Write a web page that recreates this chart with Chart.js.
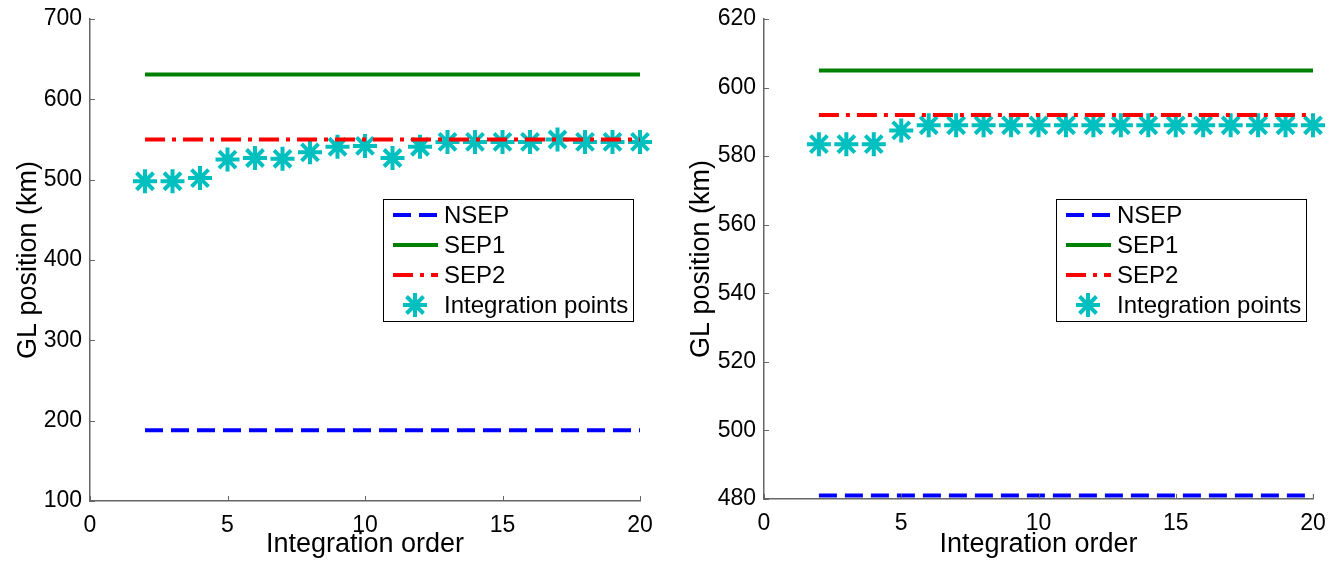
<!DOCTYPE html>
<html>
<head>
<meta charset="utf-8">
<script src="https://cdn.jsdelivr.net/npm/chart.js@4.4.0/dist/chart.umd.min.js"></script>
<style>
  html, body { margin: 0; padding: 0; background: #fff; }
  #wrap { display: flex; width: 1338px; height: 561px; }
  #wrap div { position: relative; width: 669px; height: 561px; }
</style>
</head>
<body>
<div id="wrap">
  <div><canvas id="left" width="669" height="561"></canvas></div>
  <div><canvas id="right" width="669" height="561"></canvas></div>
</div>
<script>
// Integration order on the x axis
const orders = [2, 3, 4, 5, 6, 7, 8, 9, 10, 11, 12, 13, 14, 15, 16, 17, 18, 19, 20];

// Left panel (km)
const leftNSEP = 188;
const leftSEP1 = 631;
const leftSEP2 = 550;
const leftPoints = [498, 498, 502, 525, 527, 526, 534, 541, 542, 527, 541, 547, 547, 547, 547, 550, 547, 547, 547];
const leftYTicks = [100, 200, 300, 400, 500, 600, 700];

// Right panel (km)
const rightNSEP = 481;
const rightSEP1 = 605;
const rightSEP2 = 592;
const rightPoints = [583.5, 583.5, 583.5, 587.5, 589, 589, 589, 589, 589, 589, 589, 589, 589, 589, 589, 589, 589, 589, 589];
const rightYTicks = [480, 500, 520, 540, 560, 580, 600, 620];

const xTicks = [0, 5, 10, 15, 20];
const seriesNames = ['NSEP', 'SEP1', 'SEP2', 'Integration points'];

const FONT = 'Liberation Sans, Arial, Helvetica, sans-serif';
const AXIS_COLOR = '#666';
const CYAN = '#00bfbf';

// MATLAB style inward tick marks
const inwardTicks = {
    id: 'inwardTicks',
    afterDraw: function (chart) {
        const ctx = chart.ctx;
        const a = chart.chartArea;
        const xs = chart.scales.x;
        const ys = chart.scales.y;
        ctx.save();
        ctx.strokeStyle = AXIS_COLOR;
        ctx.lineWidth = 1;
        ctx.beginPath();
        xs.ticks.forEach(function (t) {
            const px = Math.round(xs.getPixelForValue(t.value)) + 0.5;
            ctx.moveTo(px, a.bottom);
            ctx.lineTo(px, a.bottom - 5);
        });
        ys.ticks.forEach(function (t) {
            const py = Math.round(ys.getPixelForValue(t.value)) + 0.5;
            ctx.moveTo(a.left, py);
            ctx.lineTo(a.left + 5, py);
        });
        ctx.stroke();
        ctx.restore();
    }
};

// Legend box drawn inside the plot area, like the MATLAB legend
const boxLegend = {
    id: 'boxLegend',
    afterDraw: function (chart) {
        const ctx = chart.ctx;
        const a = chart.chartArea;
        const w = 250, h = 122;
        const left = a.right - 7 - w;
        const top = 199 - 19 + a.top;
        ctx.save();
        ctx.fillStyle = '#fff';
        ctx.fillRect(left, top, w, h);
        ctx.strokeStyle = '#000';
        ctx.lineWidth = 1;
        ctx.strokeRect(left + 0.5, top + 0.5, w, h);

        ctx.font = '24px ' + FONT;
        ctx.textBaseline = 'middle';
        ctx.textAlign = 'left';
        chart.data.datasets.forEach(function (ds, i) {
            const cy = top + 16 + i * 30;
            ctx.save();
            if (ds.showLine === false) {
                drawStar(ctx, left + 32, cy, ds.pointRadius, ds.pointBorderWidth, ds.pointBorderColor);
            } else {
                ctx.strokeStyle = ds.borderColor;
                ctx.lineWidth = ds.borderWidth;
                ctx.setLineDash(ds.borderDash || []);
                ctx.beginPath();
                ctx.moveTo(left + 10, cy);
                ctx.lineTo(left + 55, cy);
                ctx.stroke();
            }
            ctx.restore();
            ctx.fillStyle = '#000';
            ctx.fillText(ds.label, left + 61, cy + 1);
        });
        ctx.restore();
    }
};

function drawStar(ctx, x, y, r, lw, color) {
    ctx.strokeStyle = color;
    ctx.lineWidth = lw;
    ctx.beginPath();
    ctx.moveTo(x - r, y); ctx.lineTo(x + r, y);
    ctx.moveTo(x, y - r); ctx.lineTo(x, y + r);
    const d = r * Math.SQRT1_2;
    ctx.moveTo(x - d, y - d); ctx.lineTo(x + d, y + d);
    ctx.moveTo(x - d, y + d); ctx.lineTo(x + d, y - d);
    ctx.stroke();
}

function flat(value) {
    return orders.map(function (o) { return { x: o, y: value }; });
}

function makeChart(id, nsep, sep1, sep2, pts, yTicks, yWidth, xHeight, rightPad, titlePad) {
    const ctx = document.getElementById(id).getContext('2d');
    return new Chart(ctx, {
        type: 'line',
        data: {
            datasets: [
                {
                    label: seriesNames[0],
                    data: flat(nsep),
                    borderColor: '#0000ff',
                    borderWidth: 4,
                    borderDash: [18, 8],
                    pointRadius: 0
                },
                {
                    label: seriesNames[1],
                    data: flat(sep1),
                    borderColor: '#008000',
                    borderWidth: 4,
                    pointRadius: 0
                },
                {
                    label: seriesNames[2],
                    data: flat(sep2),
                    borderColor: '#ff0000',
                    borderWidth: 4,
                    borderDash: [20, 7, 4, 7],
                    pointRadius: 0
                },
                {
                    label: seriesNames[3],
                    data: orders.map(function (o, i) { return { x: o, y: pts[i] }; }),
                    showLine: false,
                    pointStyle: 'star',
                    pointRadius: 12,
                    pointBorderWidth: 4,
                    pointBorderColor: CYAN,
                    pointBackgroundColor: CYAN,
                    borderColor: CYAN
                }
            ]
        },
        options: {
            responsive: false,
            animation: false,
            devicePixelRatio: 1,
            clip: false,
            layout: { padding: { top: 19, right: rightPad, bottom: 0, left: 0 } },
            plugins: {
                legend: { display: false },
                tooltip: { enabled: false }
            },
            scales: {
                x: {
                    type: 'linear',
                    min: 0,
                    max: 20,
                    afterBuildTicks: function (s) { s.ticks = xTicks.map(function (v) { return { value: v }; }); },
                    afterFit: function (s) { s.height = xHeight; },
                    grid: { display: false },
                    border: { display: true, color: AXIS_COLOR, width: 1.5 },
                    ticks: {
                        color: '#000',
                        padding: 3,
                        maxRotation: 0,
                        font: { family: FONT, size: 23 }
                    },
                    title: {
                        display: true,
                        text: 'Integration order',
                        color: '#000',
                        padding: { top: 0, bottom: 0 },
                        font: { family: FONT, size: 27 }
                    }
                },
                y: {
                    type: 'linear',
                    min: yTicks[0],
                    max: yTicks[yTicks.length - 1],
                    afterBuildTicks: function (s) { s.ticks = yTicks.map(function (v) { return { value: v }; }); },
                    afterFit: function (s) { s.width = yWidth; },
                    grid: { display: false },
                    border: { display: true, color: AXIS_COLOR, width: 1.5 },
                    ticks: {
                        color: '#000',
                        padding: 0,
                        font: { family: FONT, size: 23 }
                    },
                    title: {
                        display: true,
                        text: 'GL position (km)',
                        color: '#000',
                        padding: { top: titlePad, bottom: 0 },
                        font: { family: FONT, size: 27 }
                    }
                }
            }
        },
        plugins: [inwardTicks, boxLegend]
    });
}

makeChart('left', leftNSEP, leftSEP1, leftSEP2, leftPoints, leftYTicks, 90, 60, 29, 12);
makeChart('right', rightNSEP, rightSEP1, rightSEP2, rightPoints, rightYTicks, 95, 62, 25, 16);
</script>
</body>
</html>
